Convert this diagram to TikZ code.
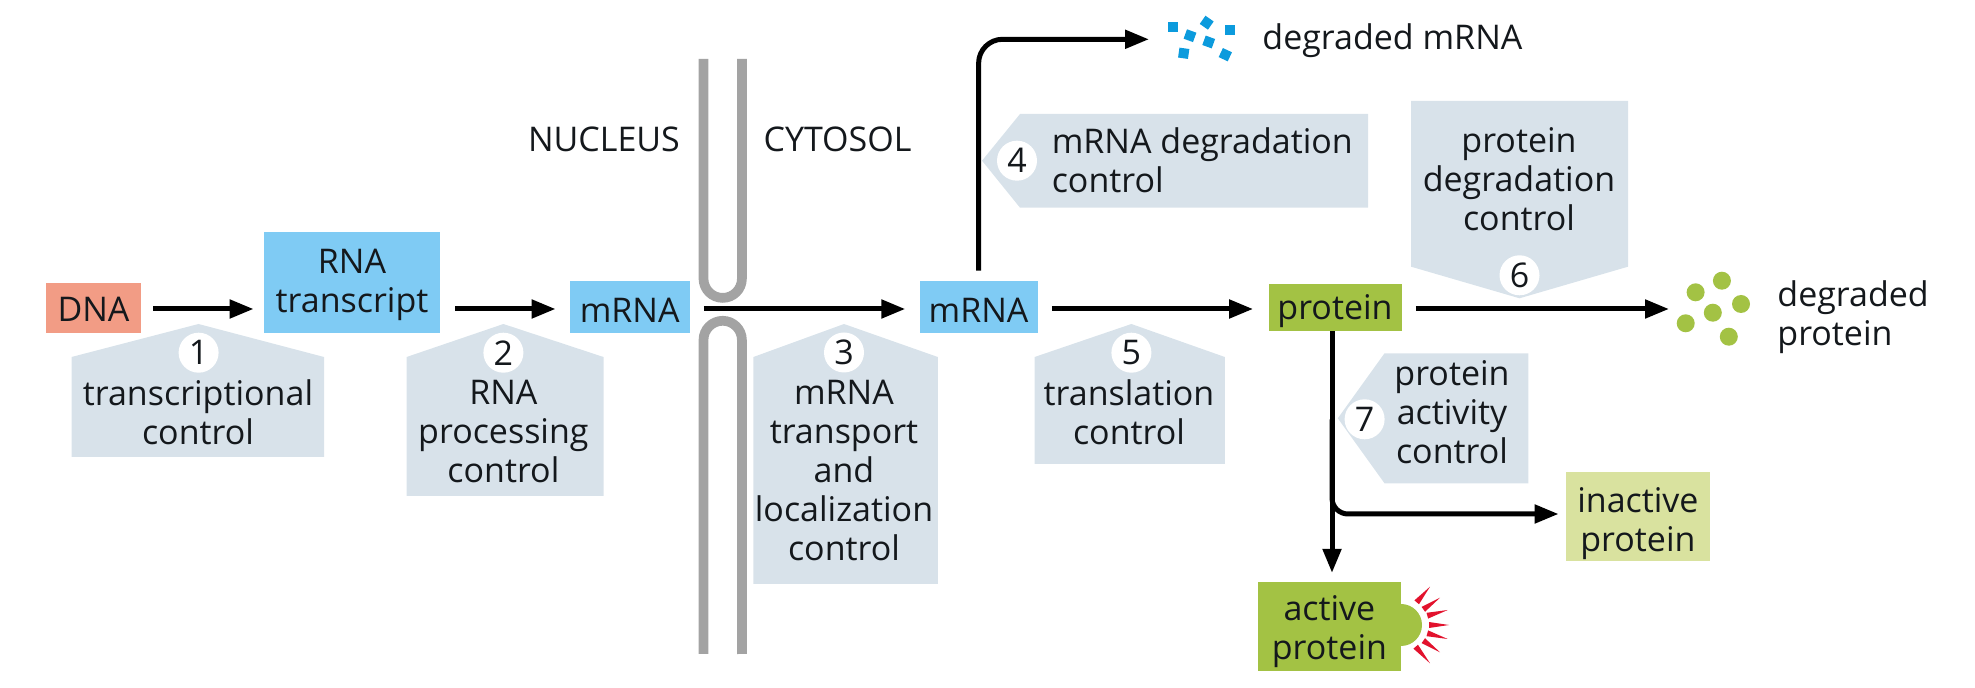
\documentclass[tikz,border=0pt]{standalone}
\usepackage{fontspec}
\setmainfont{Open Sans}
\usetikzlibrary{arrows.meta,calc}
\definecolor{ctrl}{HTML}{D8E2EA}
\definecolor{rnablue}{HTML}{7FCBF4}
\definecolor{dnared}{HTML}{F29C85}
\definecolor{protgreen}{HTML}{A3C244}
\definecolor{inactgreen}{HTML}{D9E29F}
\definecolor{memb}{HTML}{A3A3A3}
\definecolor{ink}{HTML}{14181C}
\definecolor{frag}{HTML}{0C9BDD}
\definecolor{ray}{HTML}{E2122D}
\tikzset{
  x=0.5pt,y=-0.5pt,
  plain/.style={font=\fontsize{17}{19.5}\selectfont,text=ink,inner sep=0pt},
  lbl/.style={plain,align=center,yshift=1.25pt},
  lblleft/.style={lbl,align=left},
  single/.style={plain,text height=15.5pt,text depth=0pt},
  boxshape/.style={inner sep=0pt},
  num/.style={circle,fill=white,inner sep=0pt,minimum size=20pt,font=\fontsize{17}{19}\selectfont,text=ink},
  ctrlshape/.style={fill=ctrl},
  flow/.style={draw=black,line width=2.5pt,-{Triangle[length=12pt,width=9pt]},rounded corners=12pt},
  wall/.style={draw=memb,line width=4.85pt},
  fragment/.style={fill=frag,minimum size=5pt,inner sep=0pt},
  dot/.style={circle,fill=protgreen,minimum size=9pt,inner sep=0pt},
}
\begin{document}
\begin{tikzpicture}
\useasboundingbox (0,0) rectangle (1975,688);
\coordinate (axis) at (0,309);
\coordinate (branchy) at (0,514);
% membrane
\draw[wall] (703.5,59) -- (703.5,278.7) arc[start angle=180,end angle=360,radius=9.6pt] -- (742,59);
\draw[wall] (703.5,654) -- (703.5,340) arc[start angle=180,end angle=0,radius=9.6pt] -- (742,654);
% control shapes
\fill[ctrlshape] (71.5,357) -- (198.5,324) -- (324,357) -- (324,457) -- (71.5,457) -- cycle;
\fill[ctrlshape] (406.6,357) -- (503.4,324) -- (603.5,357) -- (603.5,496) -- (406.6,496) -- cycle;
\fill[ctrlshape] (753.4,357) -- (844,324) -- (937.8,357) -- (937.8,584) -- (753.4,584) -- cycle;
\fill[ctrlshape] (1034.6,357) -- (1131.4,324) -- (1224.8,357) -- (1224.8,464) -- (1034.6,464) -- cycle;
\fill[ctrlshape] (982,160.7) -- (1020,114) -- (1368,114) -- (1368,207.7) -- (1020,207.7) -- cycle;
\fill[ctrlshape] (1411,101) -- (1628,101) -- (1628,266.7) -- (1519.5,298.3) -- (1411,266.7) -- cycle;
\fill[ctrlshape] (1337.8,418.3) -- (1384.5,353.3) -- (1528.4,353.3) -- (1528.4,483.3) -- (1384.5,483.3) -- cycle;
% boxes
\node[single,text height=13.5pt,fill=dnared,minimum width=47.5pt,minimum height=25pt] (dna) at (93.5,308) {DNA};
\node[boxshape,fill=rnablue,minimum width=88pt,minimum height=50.5pt] (rna) at (352,282.5) {};
\node[lbl] (rnat) at (352,287.5) {RNA\\transcript};
\node[single,fill=rnablue,minimum width=59.75pt,minimum height=26pt] (mrnaA) at (629.75,307) {mRNA};
\node[single,fill=rnablue,minimum width=58.9pt,minimum height=25.85pt] (mrnaB) at (978.6,306.85) {mRNA};
\node[single,text height=12pt,fill=protgreen,minimum width=66.5pt,minimum height=23.35pt] (protein) at (1335,307.35) {protein};
\node[boxshape,fill=inactgreen,minimum width=71.9pt,minimum height=44.2pt] (inactive) at (1637.9,516.5) {};
\node[lbl] (inactivet) at (1637.9,526.5) {inactive\\protein};
\fill[protgreen] (1401,604) arc[start angle=90,end angle=-90,radius=10.5pt] -- cycle;
\node[boxshape,fill=protgreen,minimum width=71.6pt,minimum height=44.5pt] (active) at (1329.4,626.2) {};
\node[lbl] (activet) at (1329.4,633.7) {active\\protein};
% labels
\node[lbl] (t1) at (198,414.5) {transcriptional\\control};
\node[lbl] (t2) at (503.4,434) {RNA\\processing\\control};
\node[lbl] (t3) at (844,473) {mRNA\\transport\\and\\localization\\control};
\node[lbl] (t5) at (1129,415) {translation\\control};
\node[lblleft,anchor=west] (t4) at (1051.4,163) {mRNA degradation\\control};
\node[lbl] (t6) at (1519,181.7) {protein\\degradation\\control};
\node[lbl] (t7) at (1452,414.5) {protein\\activity\\control};
\node[plain,anchor=base] (nuc) at (604,152) {NUCLEUS};
\node[plain,anchor=base] (cyt) at (837.5,152) {CYTOSOL};
\node[plain,anchor=base west] (degm) at (1262,50) {degraded mRNA};
\node[lblleft,anchor=west] (degp) at (1777,320) {degraded\\protein};
% numbers
\node[num] (n1) at (198.6,352.7) {1};
\node[num] (n2) at (503.4,352.7) {2};
\node[num] (n3) at (844,352.5) {3};
\node[num] (n4) at (1017,160.7) {4};
\node[num] (n5) at (1131.4,352.7) {5};
\node[num] (n6) at (1519.5,275.3) {6};
\node[num] (n7) at (1364.6,419.3) {7};
% fragments
\node[fragment] (fa) at (1172.7,26.7) {};
\node[fragment,rotate=-20] (fb) at (1190,35.7) {};
\node[fragment,rotate=-35] (fc) at (1206.7,22.7) {};
\node[fragment] (fd) at (1230,30) {};
\node[fragment,rotate=-20] (fe) at (1208.7,42) {};
\node[fragment,rotate=-8] (ff) at (1183.7,53.3) {};
\node[fragment,rotate=-25] (fg) at (1225.3,54.7) {};
% dots
\node[dot] (da) at (1695.6,292.3) {};
\node[dot] (db) at (1721.9,280.7) {};
\node[dot] (dc) at (1741,304) {};
\node[dot] (dd) at (1712.8,312.7) {};
\node[dot] (de) at (1685.7,323.3) {};
\node[dot] (df) at (1728.8,336.7) {};
% rays
\foreach \xa/\ya/\xb/\yb in {1430/586.7/1416.7/602.3,1440/597.7/1423.3/609.3,1447.7/610/1427.3/615.7,1449/625/1429/625,1447.7/639/1427.3/633.3,1440/652.3/1423.3/640.7,1430/663.3/1415.7/646.7}
  \fill[ray] (\xa,\ya) -- ($(\xb,\yb)!1.5pt!90:(\xa,\ya)$) -- ($(\xb,\yb)!1.5pt!-90:(\xa,\ya)$) -- cycle;
% connectors
\draw[flow,shorten <=6pt,shorten >=5pt] (dna.east |- axis) -- (rna.west |- axis);
\draw[flow,shorten <=7.5pt,shorten >=7pt] (rna.east |- axis) -- (mrnaA.west |- axis);
\draw[flow,shorten <=7pt,shorten >=7pt] (mrnaA.east |- axis) -- (mrnaB.west |- axis);
\draw[flow,shorten <=7pt,shorten >=7.5pt] (mrnaB.east |- axis) -- (protein.west |- axis);
\coordinate (degtip) at (1149,39.3);
\coordinate (dottip) at (1669,309);
\draw[flow,shorten <=5pt] (mrnaB.north) -- (mrnaB.north |- degtip) -- (degtip);
\draw[flow,shorten <=7pt] (protein.east |- axis) -- (dottip);
\coordinate (stem) at (1332,0);
\draw[flow,shorten >=4.2pt] (stem |- protein.south) -- (stem |- active.north);
\draw[flow,rounded corners=8pt,shorten >=3.5pt] (stem |- n7) -- (stem |- branchy) -- (inactive.west |- branchy);
\end{tikzpicture}
\end{document}
